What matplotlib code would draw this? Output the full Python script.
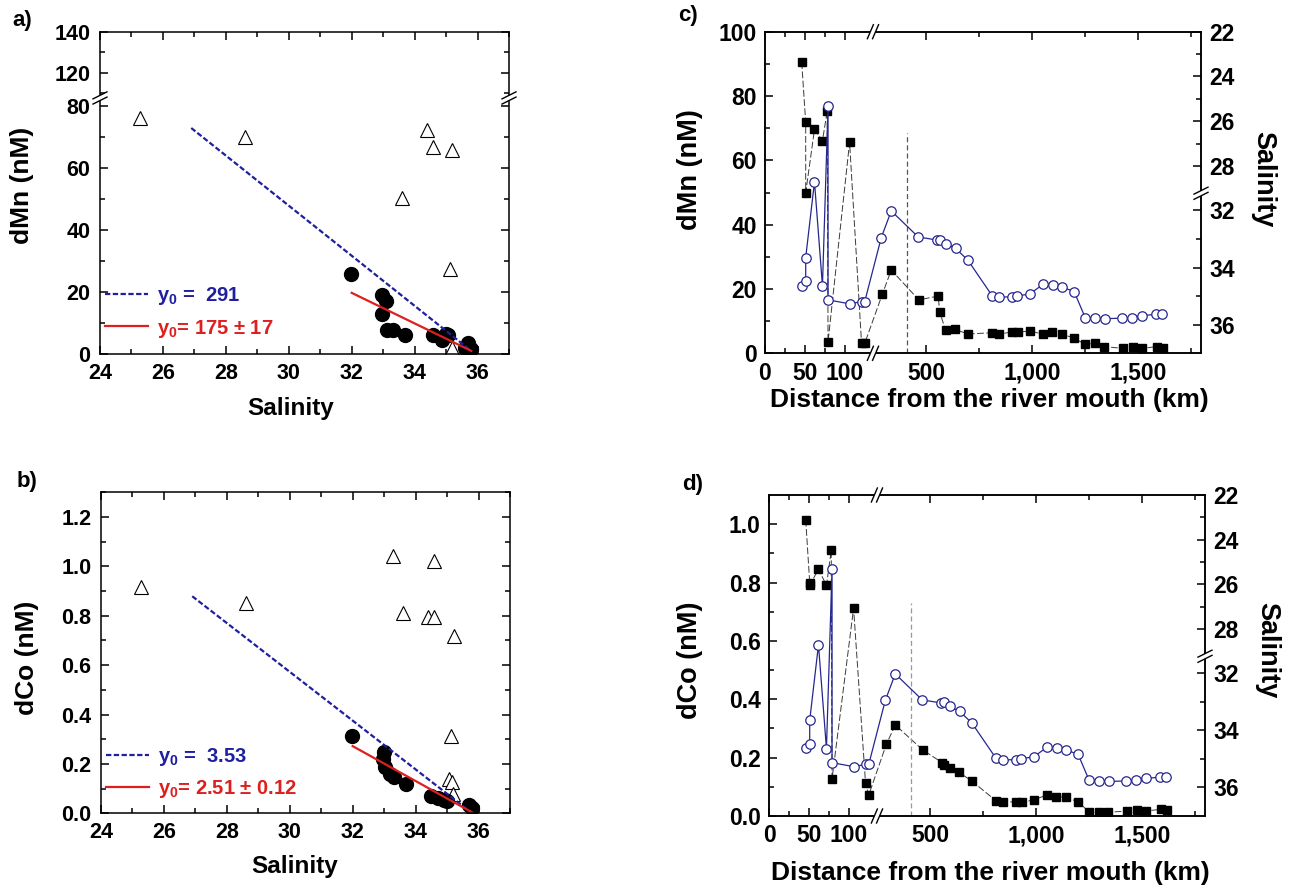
"""Trace metals (dMn, dCo) vs salinity and vs distance from the river mouth"""
import numpy as np
import matplotlib
matplotlib.use('Agg')
import matplotlib.pyplot as plt
from matplotlib.lines import Line2D
from matplotlib.patches import Polygon
from matplotlib.ticker import FixedLocator, FuncFormatter, FormatStrFormatter
from matplotlib.transforms import IdentityTransform, blended_transform_factory

plt.rcParams['font.family'] = ['Liberation Sans', 'DejaVu Sans']
plt.rcParams['font.weight'] = 'bold'
plt.rcParams['axes.labelweight'] = 'bold'
plt.rcParams['mathtext.fontset'] = 'custom'
plt.rcParams['mathtext.rm'] = 'Liberation Sans:bold'
plt.rcParams['mathtext.bf'] = 'Liberation Sans:bold'
plt.rcParams['mathtext.it'] = 'Liberation Sans:bold'
plt.rcParams['axes.linewidth'] = 1.1

#######################################
###### DATA
#######################################

# a) dMn vs salinity
tri_a_sal = [25.27, 28.6, 34.4, 34.6, 35.2, 33.6, 35.13, 35.2]
tri_a_mn = [75.9, 69.9, 72.2, 66.6, 65.7, 50.4, 27.5, 2.0]
circ_a_sal = [31.98, 32.97, 33.1, 32.97, 33.12, 33.3, 33.68, 34.6, 34.87, 35.0, 35.05, 35.7, 35.6, 35.8]
circ_a_mn = [25.9, 19.0, 17.0, 13.0, 7.7, 7.7, 6.1, 6.0, 4.5, 6.6, 6.0, 3.4, 1.8, 1.5]
fit_a_blue_sal, fit_a_blue_mn = [26.9, 35.8], [72.8, 1.0]
fit_a_red_sal, fit_a_red_mn = [32.0, 35.8], [19.7, 1.0]
label_a_blue = r'$\mathbf{y_0}$ =  291'
label_a_red = r'$\mathbf{y_0}$= 175 ± 17'

# b) dCo vs salinity
tri_b_sal = [25.26, 28.6, 33.28, 34.57, 33.6, 34.4, 34.6, 35.22, 35.12, 35.05, 35.15, 35.2]
tri_b_co = [0.915, 0.85, 1.043, 1.02, 0.81, 0.797, 0.797, 0.717, 0.312, 0.14, 0.125, 0.08]
circ_b_sal = [31.98, 33.0, 32.95, 33.04, 33.2, 33.3, 33.7, 34.5, 34.7, 34.9, 35.0, 35.7, 35.8]
circ_b_co = [0.312, 0.248, 0.22, 0.188, 0.16, 0.148, 0.12, 0.07, 0.06, 0.055, 0.05, 0.035, 0.02]
fit_b_blue_sal, fit_b_blue_co = [26.9, 35.8], [0.879, 0.0]
fit_b_red_sal, fit_b_red_co = [32.0, 35.85], [0.272, 0.0]
label_b_blue = r'$\mathbf{y_0}$ =  3.53'
label_b_red = r'$\mathbf{y_0}$= 2.51 ± 0.12'

# c) and d) along the transect
dist_metal = [46, 51, 51, 62, 72, 78, 79, 106, 121, 125, 293, 335, 465, 556, 564, 591, 634, 696,
              810, 845, 904, 932, 987, 1050, 1095, 1139, 1197, 1249, 1296, 1340, 1429, 1476,
              1518, 1586, 1617]
dmn = [90.5, 71.8, 49.9, 69.6, 66.1, 75.4, 3.6, 65.6, 3.1, 3.1, 18.4, 25.9, 16.6, 17.8, 12.7,
       7.2, 7.5, 6.0, 6.4, 5.9, 6.7, 6.5, 7.0, 5.9, 6.7, 6.0, 4.7, 2.8, 3.1, 2.1, 1.5, 2.1,
       1.5, 2.1, 1.5]
dco = [1.015, 0.80, 0.79, 0.846, 0.79, 0.91, 0.127, 0.712, 0.112, 0.072, 0.246, 0.312, 0.226,
       0.183, 0.175, 0.166, 0.15, 0.12, 0.052, 0.047, 0.049, 0.047, 0.055, 0.072, 0.066, 0.064,
       0.049, 0.013, 0.015, 0.013, 0.017, 0.021, 0.017, 0.023, 0.021]
dist_sal = [46, 51, 51, 62, 72, 79, 79, 106, 121, 125, 288, 335, 462, 552, 567, 591, 638, 696,
            810, 841, 904, 928, 987, 1050, 1097, 1142, 1197, 1249, 1296, 1343, 1424, 1471,
            1518, 1583, 1612]
salinity = [34.63, 34.47, 33.65, 28.71, 34.64, 25.33, 35.13, 35.27, 35.19, 35.19, 32.95, 32.02,
            32.93, 33.04, 33.02, 33.16, 33.33, 33.74, 34.98, 35.04, 35.02, 34.99, 34.93, 34.59,
            34.61, 34.69, 34.84, 35.75, 35.77, 35.79, 35.77, 35.75, 35.68, 35.64, 35.63]
front_dist = 410
front_top_mn = 68.5
front_top_co = 0.73

BLUE = '#1f1fa0'
RED = '#dd1f1f'
CIRC = '#26268f'

#######################################
###### HELPERS
#######################################

W, H = 1289, 890
fig = plt.figure(figsize=(W / 100, H / 100), dpi=100)


def px_axes(left, top, right, bottom):
    return fig.add_axes([left / W, 1 - bottom / H, (right - left) / W, (bottom - top) / H])


def piecewise(xs, ps):
    '''broken axis as a piecewise linear scale'''
    xs = np.asarray(xs, float)
    ps = np.asarray(ps, float)
    return (lambda v: np.interp(v, xs, ps)), (lambda v: np.interp(v, ps, xs))


def break_mark(px, py, on_vertical_spine):
    '''two slanted strokes with a white gap, in display pixels'''
    if on_vertical_spine:
        a, b, off = 7.0, 3.5, np.array([0.0, 2.6])
    else:
        a, b, off = 3.0, 7.0, np.array([2.6, 0.0])
    p = np.array([px, py])
    s0, s1 = np.array([-a, -b]), np.array([a, b])
    quad = [p - off + s0, p - off + s1, p + off + s1, p + off + s0]
    fig.add_artist(Polygon(quad, closed=True, facecolor='white', edgecolor='none',
                           transform=IdentityTransform(), zorder=20))
    for sign in (-1, 1):
        q0, q1 = p + sign * off + s0, p + sign * off + s1
        fig.add_artist(Line2D([q0[0], q1[0]], [q0[1], q1[1]], color='black', lw=1.0,
                              transform=IdentityTransform(), zorder=21))


def style_ticks(ax, labelsize, xpad=5, ypad=5):
    ax.tick_params(which='both', direction='in', width=1.1, labelsize=labelsize)
    ax.tick_params(which='major', length=6)
    ax.tick_params(which='minor', length=3.5)
    ax.tick_params(axis='x', pad=xpad)
    ax.tick_params(axis='y', pad=ypad)


#######################################
###### a) and b): metal vs salinity
#######################################

def salinity_panel(ax, tri_x, tri_y, circ_x, circ_y, blue, red, labels, legend_y):
    ax.plot(tri_x, tri_y, ls='none', marker='^', ms=10, mfc='white', mec='black', mew=0.8)
    ax.plot(circ_x, circ_y, ls='none', marker='o', ms=10, color='black')
    hb, = ax.plot(blue[0], blue[1], color=BLUE, lw=1.6, ls=(0, (2.4, 1.1)))
    hr, = ax.plot(red[0], red[1], color=RED, lw=1.6)
    leg = ax.legend([hb, hr], labels, loc='lower left', bbox_to_anchor=(0.012, legend_y),
                    frameon=False, fontsize=14.5, handlelength=2.15, handletextpad=0.45,
                    labelspacing=0.5, borderpad=0, borderaxespad=0)
    leg.get_texts()[0].set_color(BLUE)
    leg.get_texts()[1].set_color(RED)
    ax.set_xlim(24, 37)
    ax.xaxis.set_major_locator(FixedLocator(np.arange(24, 37, 2)))
    ax.xaxis.set_minor_locator(FixedLocator(np.arange(25, 38, 2)))
    ax.tick_params(top=True, right=True, which='both')
    style_ticks(ax, 15.5, xpad=6.5, ypad=7)


ax_a = px_axes(100, 32, 509, 354)
ax_a.set_yscale('function', functions=piecewise([-100, 0, 82.4, 107.6, 140, 300],
                                                 [-311.25, 0, 256.5, 257.0, 322.9, 648.5]))
salinity_panel(ax_a, tri_a_sal, tri_a_mn, circ_a_sal, circ_a_mn,
               (fit_a_blue_sal, fit_a_blue_mn), (fit_a_red_sal, fit_a_red_mn),
               [label_a_blue, label_a_red], 0.045)
ax_a.set_ylim(0, 140)
ax_a.yaxis.set_major_locator(FixedLocator([0, 20, 40, 60, 80, 120, 140]))
ax_a.yaxis.set_minor_locator(FixedLocator([10, 30, 50, 70, 110, 130]))
ax_a.set_xlabel('Salinity', fontsize=17.5)
ax_a.set_ylabel('dMn (nM)', fontsize=19)
ax_a.xaxis.set_label_coords(0.467, -0.17)
ax_a.yaxis.set_label_coords(-0.19, 0.525)

ax_b = px_axes(101, 492.3, 510, 813.3)
salinity_panel(ax_b, tri_b_sal, tri_b_co, circ_b_sal, circ_b_co,
               (fit_b_blue_sal, fit_b_blue_co), (fit_b_red_sal, fit_b_red_co),
               [label_b_blue, label_b_red], 0.04)
ax_b.set_ylim(0, 1.3)
ax_b.yaxis.set_major_locator(FixedLocator(np.arange(0, 1.21, 0.2)))
ax_b.yaxis.set_minor_locator(FixedLocator(np.arange(0.1, 1.31, 0.2)))
ax_b.yaxis.set_major_formatter(FormatStrFormatter('%.1f'))
ax_b.set_xlabel('Salinity', fontsize=17.5)
ax_b.set_ylabel('dCo (nM)', fontsize=19)
ax_b.xaxis.set_label_coords(0.474, -0.166)
ax_b.yaxis.set_label_coords(-0.181, 0.484)

for lab in (ax_a.xaxis.label, ax_a.yaxis.label, ax_b.xaxis.label, ax_b.yaxis.label):
    lab.set_ha('center')
    lab.set_va('center')

#######################################
###### c) and d): along the transect
#######################################

dist_scale = piecewise([-100, 0, 135, 250, 1795, 5000],
                       [-80, 0, 108, 108.5, 437.1, 1118.8])
sal_scale = piecewise([0, 22, 29.21, 31.41, 37, 60],
                      [-495, 0, 162.2, 162.7, 323.4, 984.7])


def transect_panel(rect, metal, ymax, yticks, yminor, yfmt, front_top, front_color, ylabel, lab_xy):
    ax = px_axes(*rect)
    ax.set_xscale('function', functions=dist_scale)
    ax.plot(dist_metal, metal, color='#3a3a3a', lw=0.7, ls=(0, (7, 2.5)),
            marker='s', ms=6.4, mfc='black', mec='black')
    ax.vlines(front_dist, 0, front_top, color=front_color, lw=0.9, linestyles=(0, (4, 2.5)))
    ax.set_xlim(0, 1795)
    ax.set_ylim(0, ymax)
    ax.xaxis.set_major_locator(FixedLocator([0, 50, 100, 500, 1000, 1500]))
    ax.xaxis.set_minor_locator(FixedLocator([25, 75, 750, 1250, 1750]))
    ax.xaxis.set_major_formatter(FuncFormatter(lambda v, p: f'{v:,.0f}'))
    ax.yaxis.set_major_locator(FixedLocator(yticks))
    ax.yaxis.set_minor_locator(FixedLocator(yminor))
    if yfmt:
        ax.yaxis.set_major_formatter(FormatStrFormatter(yfmt))

    tw = ax.twinx()
    tw.set_yscale('function', functions=sal_scale)
    tw.plot(dist_sal, salinity, color=CIRC, lw=0.9, marker='o', ms=6.8,
            mfc='white', mec=CIRC, mew=0.9)
    tw.set_ylim(37, 22)
    tw.yaxis.set_major_locator(FixedLocator([22, 24, 26, 28, 32, 34, 36]))
    tw.yaxis.set_minor_locator(FixedLocator([23, 25, 27, 33, 35]))

    ax.tick_params(axis='x', which='both', top=True)
    ax.tick_params(axis='y', which='both', right=False)
    style_ticks(ax, 16.5, xpad=6, ypad=6)
    style_ticks(tw, 16.5, xpad=6, ypad=6)

    ax.set_xlabel('Distance from the river mouth (km)', fontsize=19)
    ax.set_ylabel(ylabel, fontsize=19.5)
    tw.set_ylabel('Salinity', fontsize=19.5, rotation=270)
    ax.xaxis.set_label_coords(*lab_xy[0])
    ax.yaxis.set_label_coords(*lab_xy[1])
    tw.yaxis.set_label_coords(*lab_xy[2])
    for lab in (ax.xaxis.label, ax.yaxis.label, tw.yaxis.label):
        lab.set_ha('center')
        lab.set_va('center')

    # break marks on the top/bottom spines and on the salinity spine
    tx = blended_transform_factory(ax.transData, ax.transAxes)
    for yy in (0, 1):
        px, py = tx.transform((190, yy))
        break_mark(px, py, False)
    ts = blended_transform_factory(tw.transAxes, tw.transData)
    px, py = ts.transform((1, 30.3))
    break_mark(px, py, True)
    return ax, tw


transect_panel((765, 31.7, 1201, 353.3), dmn, 100, np.arange(0, 101, 20), np.arange(10, 100, 20),
               None, front_top_mn, '#555555', 'dMn (nM)',
               [(0.514, -0.145), (-0.172, 0.57), (1.142, 0.542)])
transect_panel((769, 495, 1205, 816), dco, 1.1, np.arange(0, 1.01, 0.2), np.arange(0.1, 1.0, 0.2),
               '%.1f', front_top_co, '#999999', 'dCo (nM)',
               [(0.507, -0.178), (-0.181, 0.486), (1.142, 0.517)])

# break marks on the dMn axis of panel a
ta = blended_transform_factory(ax_a.transAxes, ax_a.transData)
for xx in (0, 1):
    px, py = ta.transform((xx, 95))
    break_mark(px, py, True)

# panel letters
for txt, x, y in (('a)', 12, 10), ('b)', 17, 471), ('c)', 678, 5), ('d)', 682, 474)):
    fig.text(x / W, 1 - y / H, txt, fontsize=16, fontweight='bold', ha='left', va='top')

fig.savefig('out.png', dpi=100)
